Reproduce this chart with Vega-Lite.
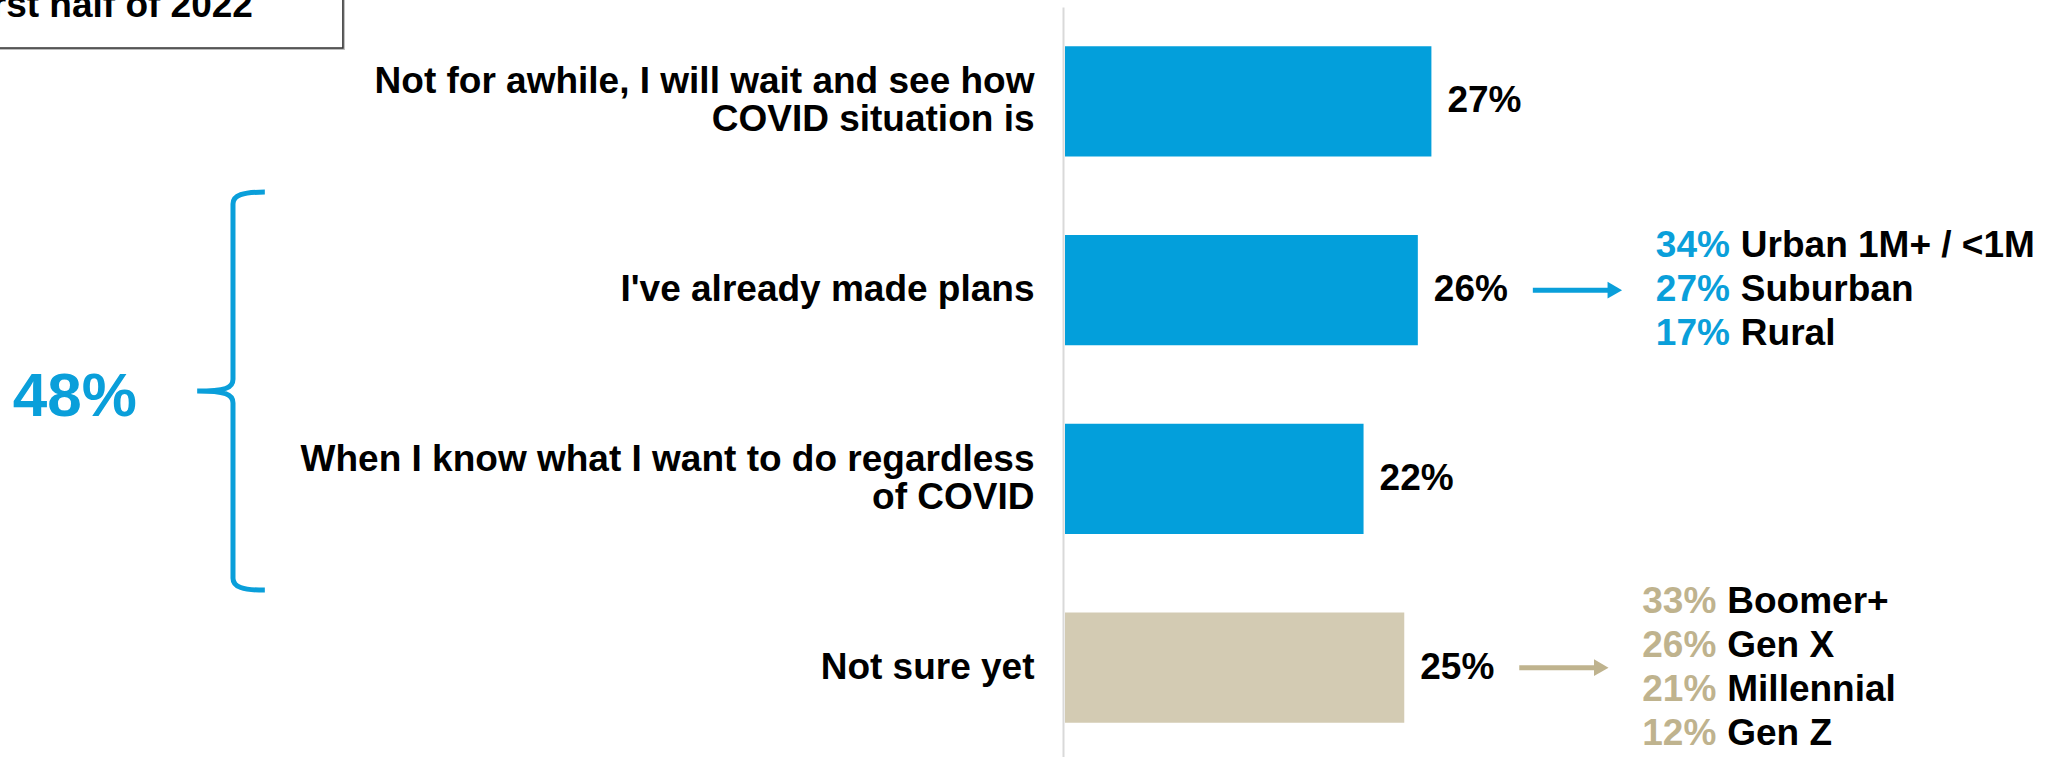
{
  "$schema": "https://vega.github.io/schema/vega-lite/v6.json",
  "width": 1003,
  "height": 755,
  "autosize": {"type": "none"},
  "padding": {"left": 1065, "top": 7, "right": 0, "bottom": 0},
  "background": "white",
  "config": {
    "view": {"stroke": null},
    "font": "Liberation Sans",
    "text": {"font": "Liberation Sans", "fontWeight": "bold"},
    "axis": {"labelFont": "Liberation Sans"}
  },
  "data": {
    "values": [
      {"answer": "Not for awhile, I will wait and see how\nCOVID situation is", "value": 0.27, "in_bracket": false},
      {"answer": "I've already made plans", "value": 0.26, "in_bracket": true, "breakdown_pct": "34%\n27%\n17%", "breakdown_label": "Urban 1M+ / <1M\nSuburban\nRural"},
      {"answer": "When I know what I want to do regardless\nof COVID", "value": 0.22, "in_bracket": true},
      {"answer": "Not sure yet", "value": 0.25, "in_bracket": false, "breakdown_pct": "33%\n26%\n21%\n12%", "breakdown_label": "Boomer+\nGen X\nMillennial\nGen Z"}
    ]
  },
  "encoding": {
    "y": {
      "field": "answer",
      "type": "nominal",
      "sort": [
        "Not for awhile, I will wait and see how\nCOVID situation is",
        "I've already made plans",
        "When I know what I want to do regardless\nof COVID",
        "Not sure yet"
      ],
      "scale": {"paddingInner": 0, "paddingOuter": 0},
      "axis": {
        "title": null,
        "ticks": false,
        "tickSize": 0,
        "grid": false,
        "labelPadding": 29,
        "labelFontSize": 37,
        "labelFontWeight": "bold",
        "labelColor": "#000000",
        "labelLimit": 1200,
        "labelLineHeight": 38,
        "labelExpr": "split(datum.label, '\\n')",
        "labelOffset": {"condition": {"test": "indexof(datum.value, '\\n') >= 0", "value": -19}, "value": 0},
        "domainColor": "#D9D9D9",
        "domainWidth": 2,
        "offset": 2
      }
    }
  },
  "layer": [
    {
      "mark": {"type": "bar", "height": {"band": 0.585}},
      "encoding": {
        "x": {"field": "value", "type": "quantitative", "scale": {"domain": [0, 0.7391], "nice": false, "zero": false}, "axis": null},
        "color": {
          "field": "answer",
          "type": "nominal",
          "scale": {
            "domain": [
              "Not for awhile, I will wait and see how\nCOVID situation is",
              "I've already made plans",
              "When I know what I want to do regardless\nof COVID",
              "Not sure yet"
            ],
            "range": ["#039FDB", "#039FDB", "#039FDB", "#D3CBB3"]
          },
          "legend": null
        }
      }
    },
    {
      "mark": {"type": "text", "align": "left", "baseline": "middle", "dx": 16, "fontSize": 37, "color": "#000000"},
      "encoding": {
        "x": {"field": "value", "type": "quantitative"},
        "text": {"field": "value", "type": "quantitative", "format": ".0%"}
      }
    },
    {
      "transform": [{"filter": "isValid(datum.breakdown_pct)"}],
      "layer": [
        {
          "mark": {"type": "rule", "strokeWidth": 5, "xOffset": 115, "x2Offset": 192},
          "encoding": {
            "x": {"field": "value", "type": "quantitative"},
            "x2": {"field": "value"},
            "color": {"condition": {"test": "datum.answer === 'Not sure yet'", "value": "#BFB38E"}, "value": "#0A9FDA"}
          }
        },
        {
          "mark": {"type": "point", "shape": "triangle-right", "size": 280, "filled": true, "opacity": 1, "xOffset": 197},
          "encoding": {
            "x": {"field": "value", "type": "quantitative"},
            "color": {"condition": {"test": "datum.answer === 'Not sure yet'", "value": "#BFB38E"}, "value": "#0A9FDA"}
          }
        },
        {
          "mark": {"type": "text", "align": "left", "baseline": "middle", "dx": 238, "dy": {"expr": "-22 * (length(split(datum.breakdown_pct, '\\n')) - 1)"}, "fontSize": 37, "lineBreak": "\n", "lineHeight": 44},
          "encoding": {
            "x": {"field": "value", "type": "quantitative"},
            "text": {"field": "breakdown_pct", "type": "nominal"},
            "color": {"condition": {"test": "datum.answer === 'Not sure yet'", "value": "#BFB38E"}, "value": "#0A9FDA"}
          }
        },
        {
          "mark": {"type": "text", "align": "left", "baseline": "middle", "dx": 323, "dy": {"expr": "-22 * (length(split(datum.breakdown_label, '\\n')) - 1)"}, "fontSize": 37, "lineBreak": "\n", "lineHeight": 44, "color": "#000000"},
          "encoding": {
            "x": {"field": "value", "type": "quantitative"},
            "text": {"field": "breakdown_label", "type": "nominal"}
          }
        }
      ]
    },
    {
      "transform": [
        {"filter": "datum.in_bracket"},
        {"aggregate": [{"op": "sum", "field": "value", "as": "total"}]}
      ],
      "layer": [
        {
          "mark": {"type": "text", "align": "center", "baseline": "middle", "dy": 6, "fontSize": 62, "color": "#0A9FDA"},
          "encoding": {
            "x": {"datum": -0.7296, "type": "quantitative"},
            "y": {"datum": "When I know what I want to do regardless\nof COVID", "type": "nominal", "bandPosition": 0.035},
            "text": {"field": "total", "type": "quantitative", "format": ".0%"}
          }
        },
        {
          "mark": {
            "type": "point",
            "shape": "M0.16,-1C0.05,-1,0,-0.985,0,-0.94L0,-0.06C0,-0.015,-0.04,0,-0.18,0C-0.04,0,0,0.015,0,0.06L0,0.94C0,0.985,0.05,1,0.16,1",
            "size": 158404,
            "filled": false,
            "opacity": 1,
            "strokeWidth": 5,
            "color": "#0A9FDA"
          },
          "encoding": {
            "x": {"datum": -0.6131, "type": "quantitative"},
            "y": {"datum": "When I know what I want to do regardless\nof COVID", "type": "nominal", "bandPosition": 0.035}
          }
        }
      ]
    },
    {
      "data": {"values": [{"title": "first half of 2022"}]},
      "layer": [
        {
          "mark": {"type": "rect", "fill": "#BDBDBD", "xOffset": 2, "yOffset": 2, "x2Offset": 2, "y2Offset": 2},
          "encoding": {
            "x": {"datum": -0.9, "type": "quantitative"},
            "x2": {"datum": -0.5321},
            "y": {"datum": "Not for awhile, I will wait and see how\nCOVID situation is", "type": "nominal", "bandPosition": -0.143},
            "y2": {"datum": "Not for awhile, I will wait and see how\nCOVID situation is", "bandPosition": 0.217}
          }
        },
        {
          "mark": {"type": "rect", "fill": "#FFFFFF", "stroke": "#333333", "strokeWidth": 1.5},
          "encoding": {
            "x": {"datum": -0.9, "type": "quantitative"},
            "x2": {"datum": -0.5321},
            "y": {"datum": "Not for awhile, I will wait and see how\nCOVID situation is", "type": "nominal", "bandPosition": -0.143},
            "y2": {"datum": "Not for awhile, I will wait and see how\nCOVID situation is", "bandPosition": 0.217}
          }
        },
        {
          "mark": {"type": "text", "align": "right", "baseline": "alphabetic", "fontSize": 37, "color": "#000000"},
          "encoding": {
            "x": {"datum": -0.5984, "type": "quantitative"},
            "y": {"datum": "Not for awhile, I will wait and see how\nCOVID situation is", "type": "nominal", "bandPosition": 0.053},
            "text": {"field": "title", "type": "nominal"}
          }
        }
      ]
    }
  ]
}
